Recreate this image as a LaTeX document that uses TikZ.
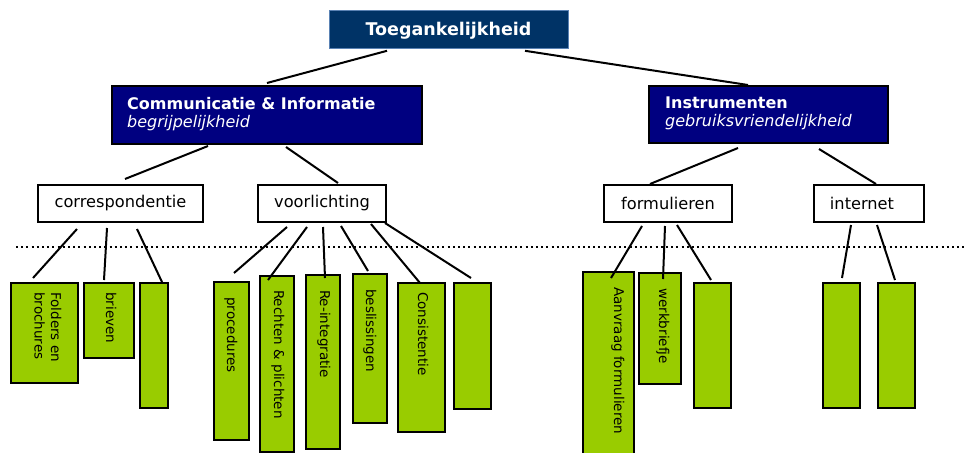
\documentclass[tikz,border=0pt]{standalone}
\usepackage{fontspec}
\setmainfont{DejaVu Sans}
\usetikzlibrary{calc}
\definecolor{topblue}{RGB}{0,51,102}
\definecolor{topedge}{RGB}{90,130,180}
\definecolor{navy}{RGB}{0,0,128}
\definecolor{lime}{RGB}{153,204,0}
\tikzset{
  conn/.style={line width=2pt, black},
  topbox/.style={draw=topedge, line width=0.8pt, fill=topblue, inner sep=0, anchor=north west},
  hdbox/.style={draw=black, line width=2pt, fill=navy, inner sep=0, anchor=north west},
  hdtext/.style={anchor=north west, align=left, inner sep=0, text=white, font=\fontsize{16}{18}\selectfont},
  lvbox/.style={draw=black, line width=2pt, fill=white, inner sep=0, anchor=north west, font=\fontsize{16.2}{18}\selectfont},
  gbox/.style={draw=black, line width=2pt, fill=lime, inner sep=0, anchor=north west},
  gtext/.style={rotate=-90, anchor=north west, inner sep=0, align=left, font=\fontsize{13.5}{16.5}\selectfont}
}
\begin{document}
\begin{tikzpicture}[x=1pt, y=-1pt]
\useasboundingbox (0,0) rectangle (965,452);
% top
\node[topbox, minimum width=239pt, minimum height=38pt] (top) at (329,10) {};
\node[text=white, font=\bfseries\fontsize{17.5}{20}\selectfont] (toptxt) at (448.5,31) {Toegankelijkheid};
% headers
\node[hdbox, minimum width=310pt, minimum height=58pt] (comm) at (111,85) {};
\node[hdtext] (commtxt) at (127,97) {\textbf{Communicatie \& Informatie}\\\textit{begrijpelijkheid}};
\node[hdbox, minimum width=239pt, minimum height=57pt] (instr) at (648,85) {};
\node[hdtext] (instrtxt) at (665,97) {\textbf{Instrumenten}\\\textit{gebruiksvriendelijkheid}};
% level 2
\node[lvbox, minimum width=165pt, minimum height=37pt] (corr) at (37,184) {correspondentie};
\node[lvbox, minimum width=128pt, minimum height=37pt] (voorl) at (257,184) {voorlichting};
\node[lvbox, minimum width=128pt, minimum height=37pt] (form) at (603,184) {formulieren};
\node[lvbox, minimum width=110pt, minimum height=37pt] (int) at (813,184) {internet\hspace*{14pt}};
% dotted line
\coordinate (dotL) at (16,247);
\coordinate (dotR) at (965,247);
\draw[line width=2pt, dash pattern=on 2pt off 3.2pt] (dotL) -- (dotR);
% green boxes
\node[gbox, minimum width=67pt, minimum height=100pt] (folders) at (10,282) {};
\node[gbox, minimum width=50pt, minimum height=75pt] (brieven) at (83,282) {};
\node[gbox, minimum width=28pt, minimum height=125pt] (e1) at (139,282) {};
\node[gbox, minimum width=35pt, minimum height=158pt] (proc) at (213,281) {};
\node[gbox, minimum width=34pt, minimum height=176pt] (recht) at (259,275) {};
\node[gbox, minimum width=34pt, minimum height=174pt] (reint) at (305,274) {};
\node[gbox, minimum width=34pt, minimum height=149pt] (besl) at (352,273) {};
\node[gbox, minimum width=47pt, minimum height=149pt] (cons) at (397,282) {};
\node[gbox, minimum width=37pt, minimum height=126pt] (e2) at (453,282) {};
\node[gbox, minimum width=51pt, minimum height=189pt] (aanv) at (582,271) {};
\node[gbox, minimum width=42pt, minimum height=111pt] (werk) at (638,272) {};
\node[gbox, minimum width=37pt, minimum height=125pt] (e3) at (693,282) {};
\node[gbox, minimum width=37pt, minimum height=125pt] (e4) at (822,282) {};
\node[gbox, minimum width=37pt, minimum height=125pt] (e5) at (877,282) {};
% green texts (rotated; anchor north west = top right corner of the vertical text)
\node[gtext] (foldersT) at (61.5,292) {Folders en\\brochures};
\node[gtext] (brievenT) at (116.5,292) {brieven};
\node[gtext] (procT) at (237.5,297) {procedures};
\node[gtext] (rechtT) at (284.5,290) {Rechten \& plichten};
\node[gtext] (reintT) at (330.5,290) {Re-integratie};
\node[gtext] (beslT) at (376.5,289) {beslissingen};
\node[gtext] (consT) at (428.5,292) {Consistentie};
\node[gtext] (aanvT) at (624.5,287) {Aanvraag formulieren};
\node[gtext] (werkT) at (669.5,288) {werkbriefje};
% connectors
\draw[conn] ($(top.south west)+(58,2)$) -- ($(comm.north west)+(156,-2)$);
\draw[conn] ($(top.south west)+(196,2)$) -- ($(instr.north west)+(100,0)$);
\draw[conn] ($(comm.south west)+(97,1)$) -- ($(corr.north west)+(88,-5)$);
\draw[conn] ($(comm.south west)+(175,2)$) -- ($(voorl.north west)+(81,-1)$);
\draw[conn] ($(instr.south west)+(90,4)$) -- ($(form.north west)+(47,0)$);
\draw[conn] ($(instr.south west)+(171,5)$) -- ($(int.north west)+(63,0)$);
\draw[conn] ($(corr.south west)+(40,6)$) -- ($(folders.north west)+(23,-4)$);
\draw[conn] ($(corr.south west)+(70,5)$) -- ($(brieven.north west)+(21,-2)$);
\draw[conn] ($(corr.south west)+(100,6)$) -- ($(e1.north west)+(23,0)$);
\draw[conn] ($(voorl.south west)+(30,4)$) -- ($(proc.north west)+(21,-8)$);
\draw[conn] ($(voorl.south west)+(50,4)$) -- ($(recht.north west)+(9,5)$);
\draw[conn] ($(voorl.south west)+(66,4)$) -- ($(reint.north west)+(20,4)$);
\draw[conn] ($(voorl.south west)+(84,3)$) -- ($(besl.north west)+(16,-2)$);
\draw[conn] ($(voorl.south west)+(114,1)$) -- ($(cons.north west)+(23,1)$);
\draw[conn] ($(voorl.south west)+(128,0)$) -- ($(e2.north west)+(18,-4)$);
\draw[conn] ($(form.south west)+(39,3)$) -- ($(aanv.north west)+(29,7)$);
\draw[conn] ($(form.south west)+(62,3)$) -- ($(werk.north west)+(25,7)$);
\draw[conn] ($(form.south west)+(74,2)$) -- ($(e3.north west)+(18,-2)$);
\draw[conn] ($(int.south west)+(38,2)$) -- ($(e4.north west)+(20,-4)$);
\draw[conn] ($(int.south west)+(64,2)$) -- ($(e5.north west)+(18,-2)$);
\end{tikzpicture}
\end{document}
